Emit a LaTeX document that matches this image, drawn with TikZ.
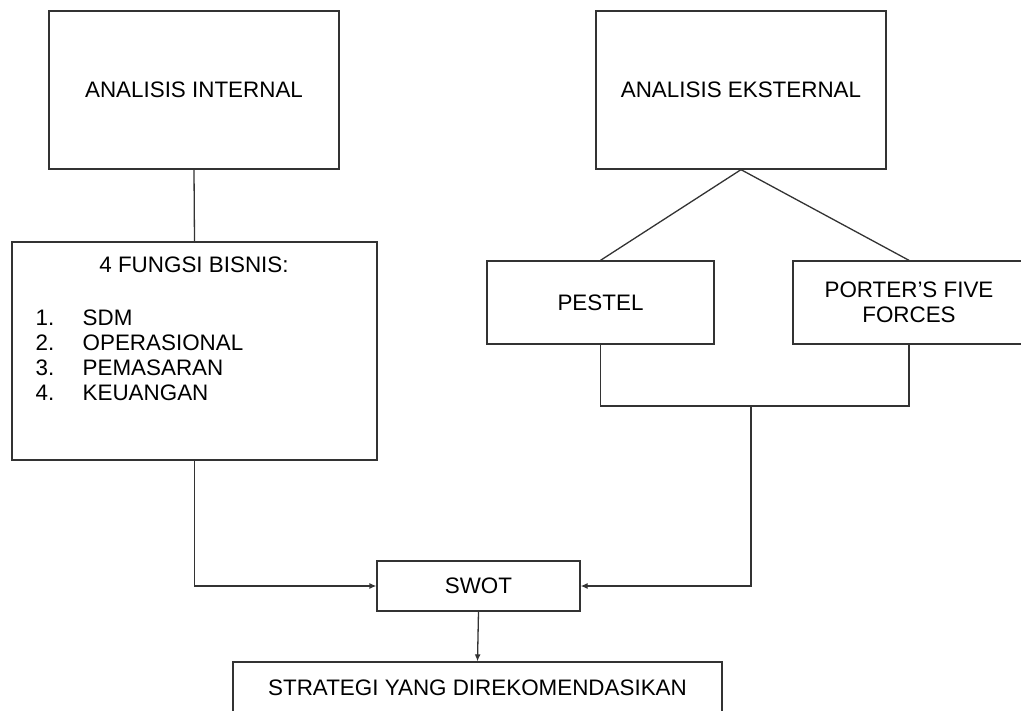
\documentclass[tikz,border=0pt]{standalone}
\usepackage{fontspec}
\setmainfont{Liberation Sans}
\usetikzlibrary{arrows.meta,positioning}

\tikzset{
  kotak/.style={draw=black!80, line width=1.3pt, rectangle, inner sep=0pt},
  panah/.style={-{Latex[length=7pt,width=6pt]}},
  garis/.style={draw=black!80, line width=1.3pt},
}

\begin{document}
\begin{tikzpicture}[x=1pt,y=-1pt]
\fontsize{22.4}{25.5}\selectfont
\useasboundingbox (0,0) rectangle (1021,711);
\clip (0,0) rectangle (1021,711);

% kotak analisis
\node[kotak, minimum width=290pt, minimum height=158pt] (internal) at (194,90) {ANALISIS INTERNAL};
\node[kotak, minimum width=290pt, minimum height=158pt] (eksternal) at (741,90) {ANALISIS EKSTERNAL};

% fungsi bisnis
\node[kotak, minimum width=365pt, minimum height=218pt] (fungsi) at (194.5,351) {};
\node (judul) at (194,265) {4 FUNGSI BISNIS:};
\node[anchor=west] (no1) at (28,318) {1.};
\node[anchor=west] (no2) at (28,343) {2.};
\node[anchor=west] (no3) at (28,368) {3.};
\node[anchor=west] (no4) at (28,393) {4.};
\node[anchor=west] (sdm) at (75,318) {SDM};
\node[anchor=west] (ops) at (75,343) {OPERASIONAL};
\node[anchor=west] (pms) at (75,368) {PEMASARAN};
\node[anchor=west] (keu) at (75,393) {KEUANGAN};

% alat analisis eksternal
\node[kotak, minimum width=227pt, minimum height=83pt] (pestel) at (600.5,302.5) {PESTEL};
\node[kotak, minimum width=232pt, minimum height=83pt, align=center] (porter) at (909,302.5) {PORTER'S FIVE\\FORCES};

\node[kotak, minimum width=203pt, minimum height=50pt] (swot) at (478.5,586) {SWOT};
\node[kotak, minimum width=489pt, minimum height=52pt] (strategi) at (477.5,688) {STRATEGI YANG DIREKOMENDASIKAN};

\coordinate (gabung) at (751,406);

\draw[garis] (internal.south) -- (fungsi.north);
\draw[garis] (eksternal.south) -- (pestel.north);
\draw[garis] (eksternal.south) -- (porter.north);
\draw[garis] (pestel.south) |- (gabung) -| (porter.south);
\draw[garis, panah] (gabung) |- (swot.east);
\draw[garis, panah] (fungsi.south) |- (swot.west);
\draw[garis, panah] (swot.south) -- (strategi.north);

\end{tikzpicture}
\end{document}
